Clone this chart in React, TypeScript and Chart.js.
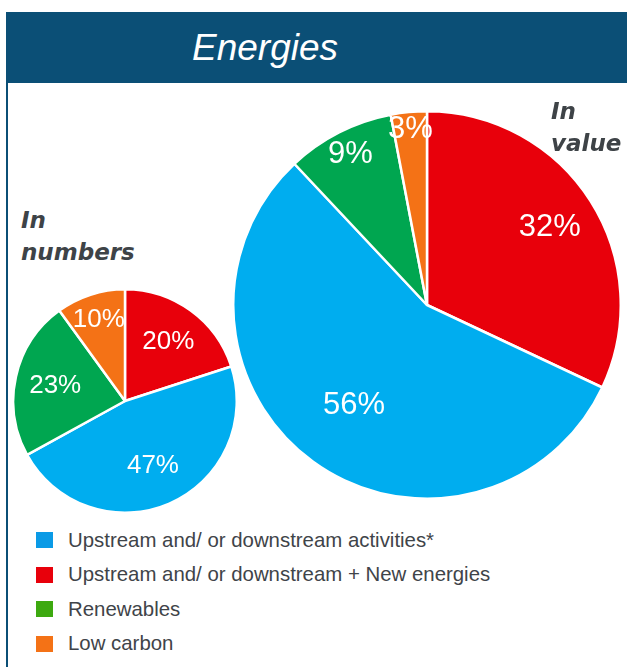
import React, { useEffect, useRef } from "react";
import { Chart, registerables } from "chart.js";

Chart.register(...registerables);

// Slice order clockwise from 12 o'clock
const sliceCategories = [
  "Upstream and/ or downstream + New energies",
  "Upstream and/ or downstream activities*",
  "Renewables",
  "Low carbon",
];
const sliceColors = ["#e8000b", "#00adef", "#00a650", "#f47216"];
const valuesInNumbers = [20, 47, 23, 10];
const valuesInValue = [32, 56, 9, 3];

// Legend order
const legendLabels = [
  "Upstream and/ or downstream activities*",
  "Upstream and/ or downstream + New energies",
  "Renewables",
  "Low carbon",
];
const legendColors = ["#0a9ae6", "#e8000b", "#3da910", "#f47216"];

const labelRadiusNumbers = [0.66, 0.63, 0.64, 0.76];
const labelRadiusValue = [0.75, 0.64, 0.87, 0.91];

function makeLabelPlugin(fractions: number[], fontSize: number) {
  return {
    id: "sliceLabels",
    afterDatasetsDraw(chart: any) {
      const ctx = chart.ctx;
      const meta = chart.getDatasetMeta(0);
      const data = chart.data.datasets[0].data as number[];
      ctx.save();
      ctx.fillStyle = "#ffffff";
      ctx.font = `${fontSize}px "Liberation Sans", Arial, sans-serif`;
      ctx.textAlign = "center";
      ctx.textBaseline = "middle";
      meta.data.forEach((arc: any, i: number) => {
        const p = arc.getProps(["x", "y", "startAngle", "endAngle", "outerRadius"], true);
        const mid = (p.startAngle + p.endAngle) / 2;
        const r = p.outerRadius * fractions[i];
        ctx.fillText(`${data[i]}%`, p.x + Math.cos(mid) * r, p.y + Math.sin(mid) * r);
      });
      ctx.restore();
    },
  };
}

function PieChart({
  values,
  fractions,
  fontSize,
  size,
  left,
  top,
}: {
  values: number[];
  fractions: number[];
  fontSize: number;
  size: number;
  left: number;
  top: number;
}) {
  const ref = useRef<HTMLCanvasElement>(null);
  useEffect(() => {
    if (!ref.current) return;
    const chart = new Chart(ref.current, {
      type: "pie",
      data: {
        labels: sliceCategories,
        datasets: [
          {
            data: values,
            backgroundColor: sliceColors,
            borderColor: "#ffffff",
            borderWidth: 2.5,
          },
        ],
      },
      options: {
        animation: false,
        responsive: false,
        maintainAspectRatio: false,
        layout: { padding: 0 },
        plugins: { legend: { display: false }, tooltip: { enabled: false }, title: { display: false } },
      },
      plugins: [makeLabelPlugin(fractions, fontSize)],
    });
    return () => chart.destroy();
  }, []);
  return (
    <canvas
      ref={ref}
      width={size}
      height={size}
      style={{ position: "absolute", left, top, width: size, height: size }}
    />
  );
}

export default function App() {
  const labelStyle: React.CSSProperties = {
    position: "absolute",
    fontFamily: '"DejaVu Sans", Verdana, sans-serif',
    fontWeight: "bold",
    fontStyle: "italic",
    fontSize: 23,
    color: "#3e4347",
    lineHeight: "32px",
  };
  return (
    <div
      style={{
        position: "absolute",
        left: 0,
        top: 0,
        width: 627,
        height: 667,
        background: "#ffffff",
        overflow: "hidden",
      }}
    >
      <div style={{ position: "absolute", left: 6, top: 12, width: 2, height: 660, background: "#0b4f76" }} />
      <div
        style={{
          position: "absolute",
          left: 6,
          top: 12,
          width: 625,
          height: 71,
          background: "#0b4f76",
        }}
      />
      <div
        style={{
          position: "absolute",
          left: 165,
          width: 200,
          top: 12,
          height: 71,
          lineHeight: "71px",
          textAlign: "center",
          color: "#ffffff",
          fontFamily: '"Liberation Sans", Arial, sans-serif',
          fontStyle: "italic",
          fontSize: 37,
        }}
      >
        Energies
      </div>

      <PieChart values={valuesInValue} fractions={labelRadiusValue} fontSize={31} size={390} left={232} top={110} />
      <PieChart values={valuesInNumbers} fractions={labelRadiusNumbers} fontSize={26} size={226} left={12} top={288} />

      <div style={{ ...labelStyle, left: 21, top: 204 }}>
        In
        <br />
        numbers
      </div>
      <div style={{ ...labelStyle, left: 551, top: 95 }}>
        In
        <br />
        value
      </div>

      <div style={{ position: "absolute", left: 36, top: 523 }}>
        {legendLabels.map((lab, i) => (
          <div key={lab} style={{ position: "relative", height: 34.5, display: "flex", alignItems: "center" }}>
            <div style={{ width: 17, height: 16, background: legendColors[i], marginRight: 15 }} />
            <span
              style={{
                fontFamily: '"Liberation Sans", Arial, sans-serif',
                fontSize: 20.4,
                color: "#3f4449",
                whiteSpace: "nowrap",
              }}
            >
              {lab}
            </span>
          </div>
        ))}
      </div>
    </div>
  );
}
